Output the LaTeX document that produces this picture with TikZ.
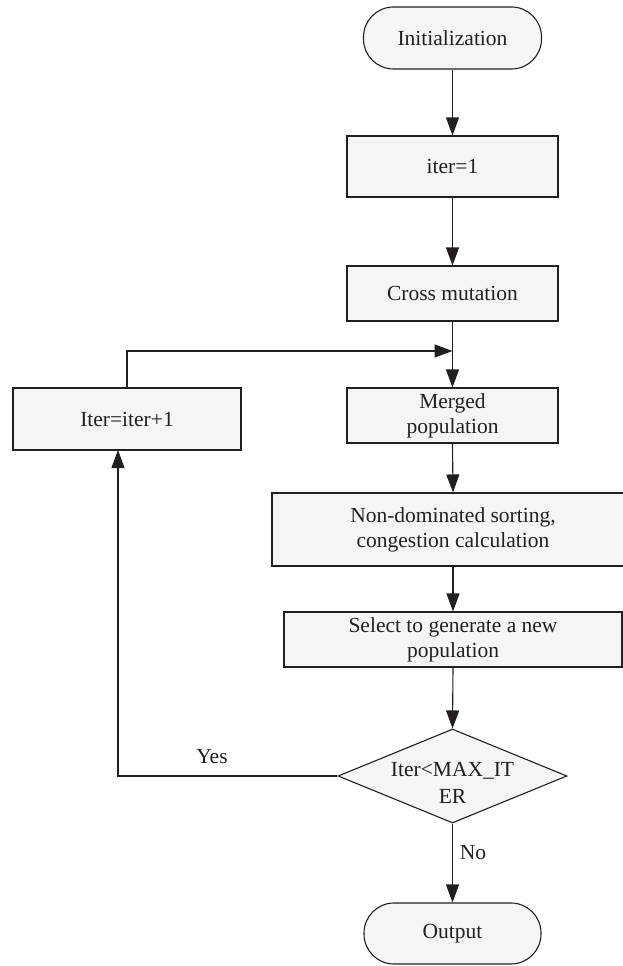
\documentclass[tikz,border=0pt]{standalone}
\usepackage{fontspec}
\setmainfont{Liberation Serif}
\usetikzlibrary{shapes.geometric,arrows.meta,calc}
\definecolor{ln}{HTML}{231F20}
\definecolor{bx}{HTML}{F5F5F5}
\begin{document}
\begin{tikzpicture}[
  x=1pt, y=-1pt,
  every node/.style={font=\fontsize{21.5}{25}\selectfont, text=ln},
  procbox/.style={draw=ln, fill=bx, line width=1.1pt, rectangle, inner sep=0pt, align=center},
  termbox/.style={draw=ln, fill=bx, line width=1.1pt, rectangle, rounded corners=30pt, inner sep=0pt, align=center},
  decbox/.style={draw=ln, fill=bx, line width=1.1pt, diamond, inner sep=0pt},
  arr/.style={draw=ln, line width=1.1pt, -{Triangle[length=18pt,width=13pt]}},
  plain/.style={draw=ln, line width=1.1pt}
]
\useasboundingbox (0,0) rectangle (622,966);

\node[termbox, minimum width=178pt, minimum height=62pt] (init) at (452.5,38) {Initialization};
\node[procbox, minimum width=211pt, minimum height=61pt] (iter1) at (452.5,166.5) {iter=1};
\node[procbox, minimum width=211pt, minimum height=55pt] (cross) at (452.5,293.5) {Cross mutation};
\node[procbox, minimum width=211pt, minimum height=55pt] (merged) at (452.5,415.5) {Merged\\population};
\node[procbox, minimum width=228pt, minimum height=62pt] (iterinc) at (127,419) {Iter=iter+1};
\node[procbox, minimum width=362pt, minimum height=73pt] (nondom) at (453,529.5) {Non-dominated sorting,\\congestion calculation};
\node[procbox, minimum width=338pt, minimum height=55pt] (select) at (453,639.5) {Select to generate a new\\population};
\node[decbox, minimum width=229pt, minimum height=94pt] (dia) at (452.5,776) {};
\node[align=center, inner sep=0pt, font=\fontsize{21.5}{27}\selectfont] (diatext) at (452.5,783) {Iter<MAX\_IT\\ER};
\node[termbox, minimum width=177pt, minimum height=61pt] (output) at (452.5,933.5) {Output};

\node[inner sep=0pt] (yes) at (212,757) {Yes};
\node[inner sep=0pt] (no) at (473,853) {No};

\coordinate (join) at (452.5,351);
\coordinate (yesend) at (118,450);

\draw[arr] (init.south) -- (iter1.north);
\draw[arr] (iter1.south) -- (cross.north);
\draw[arr] (cross.south) -- (merged.north);
\draw[arr] (iterinc.north) |- (join);
\draw[arr] (merged.south) -- (nondom.north);
\draw[arr] (nondom.south) -- (select.north);
\draw[arr] (select.south) -- (dia.north);
\draw[arr] (dia.west) -| (yesend);
\draw[arr] (dia.south) -- (output.north);
\end{tikzpicture}
\end{document}
